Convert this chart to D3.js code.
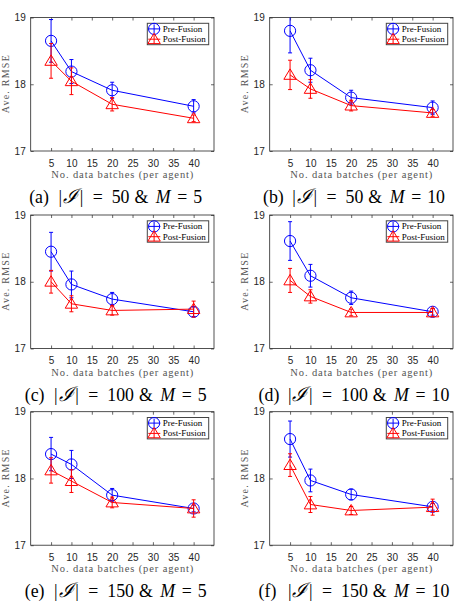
<!DOCTYPE html>
<html><head><meta charset="utf-8">
<script src="https://cdn.jsdelivr.net/npm/d3@7"></script>
<style>body{margin:0;background:#fff} svg{display:block}</style>
</head><body>
<script>
// ---- data ----
const xValues = [5, 10, 20, 40];
const xTicks = [5, 10, 15, 20, 25, 30, 35, 40];
const yTicks = [17, 18, 19];
const panelLabels = ["(a)", "(b)", "(c)", "(d)", "(e)", "(f)"];
const setSizes = [50, 50, 100, 100, 150, 150];
const mValues = [5, 10, 5, 10, 5, 10];
const seriesNames = ["Pre-Fusion", "Post-Fusion"];
const preFusion = [
  [18.65, 18.19, 17.91, 17.67],
  [18.80, 18.21, 17.80, 17.65],
  [18.45, 17.96, 17.74, 17.55],
  [18.61, 18.09, 17.76, 17.55],
  [18.365, 18.21, 17.75, 17.55],
  [18.59, 17.97, 17.76, 17.575]
];
const preFusionErr = [
  [0.32, 0.18, 0.12, 0.10],
  [0.33, 0.18, 0.11, 0.10],
  [0.29, 0.20, 0.10, 0.07],
  [0.29, 0.17, 0.10, 0.05],
  [0.25, 0.21, 0.10, 0.05],
  [0.27, 0.17, 0.08, 0.05]
];
const postFusion = [
  [18.35, 18.045, 17.70, 17.49],
  [18.14, 17.93, 17.68, 17.57],
  [18.00, 17.67, 17.57, 17.59],
  [18.02, 17.78, 17.54, 17.54],
  [18.12, 17.96, 17.64, 17.55],
  [18.20, 17.61, 17.52, 17.57]
];
const postFusionErr = [
  [0.26, 0.20, 0.10, 0.05],
  [0.22, 0.14, 0.08, 0.05],
  [0.17, 0.12, 0.07, 0.12],
  [0.18, 0.10, 0.05, 0.06],
  [0.19, 0.17, 0.08, 0.13],
  [0.17, 0.12, 0.06, 0.12]
];
const seriesColors = ["#0000ff", "#ff0000"];

// ---- layout ----
const W = 458, H = 602;
const colLeft = [30.7, 269.7], plotW = 183.3;
const rowTop = [17.5, 215, 411.7], plotH = 133.5;
const capCenter = [115.7, 354];
const axisColor = "#262626";
const SERIF = "'Liberation Serif', 'Times New Roman', serif";
const SANS = "'Liberation Sans', Arial, sans-serif";

const svg = d3.select("body").append("svg").attr("width", W).attr("height", H);

function marker(g, type, cx, cy, color) {
  if (type === 0) {
    g.append("circle").attr("cx", cx).attr("cy", cy).attr("r", 5.6)
      .attr("fill", "none").attr("stroke", color).attr("stroke-width", 1);
  } else {
    g.append("path").attr("d", `M${cx},${cy - 6}L${cx + 6.2},${cy + 4.4}L${cx - 6.2},${cy + 4.4}Z`)
      .attr("fill", "none").attr("stroke", color).attr("stroke-width", 1);
  }
}

panelLabels.forEach((lab, i) => {
  const col = i % 2, row = Math.floor(i / 2);
  const left = colLeft[col], top = rowTop[row];
  const x = d3.scaleLinear().domain([0, 45]).range([left, left + plotW]);
  const y = d3.scaleLinear().domain([17, 19]).range([top + plotH, top]);
  const g = svg.append("g");

  const cid = "clip" + i;
  svg.append("clipPath").attr("id", cid).append("rect")
    .attr("x", left).attr("y", top).attr("width", plotW).attr("height", plotH);

  const styleAxis = sel => {
    sel.select(".domain").remove();
    sel.selectAll("line").attr("stroke", axisColor).attr("stroke-width", 0.7);
    sel.selectAll("text").attr("fill", axisColor)
      .attr("font-family", SANS).attr("font-size", "10px");
  };
  g.append("g").attr("transform", `translate(0,${top + plotH})`)
    .call(d3.axisBottom(x).tickValues(xTicks).tickSize(-3).tickPadding(8.5).tickFormat(d3.format("d")))
    .call(styleAxis);
  g.append("g").attr("transform", `translate(0,${top})`)
    .call(d3.axisTop(x).tickValues(xTicks).tickSize(-3).tickFormat(""))
    .call(styleAxis);
  g.append("g").attr("transform", `translate(${left},0)`)
    .call(d3.axisLeft(y).tickValues(yTicks).tickSize(-3).tickPadding(5).tickFormat(d3.format("d")))
    .call(styleAxis);
  g.append("g").attr("transform", `translate(${left + plotW},0)`)
    .call(d3.axisRight(y).tickValues(yTicks).tickSize(-3).tickFormat(""))
    .call(styleAxis);
  g.append("rect").attr("x", left).attr("y", top).attr("width", plotW).attr("height", plotH)
    .attr("fill", "none").attr("stroke", axisColor).attr("stroke-width", 0.8);

  // axis labels
  g.append("text").attr("transform", `translate(${left - 25.5},${top + plotH / 2}) rotate(-90)`)
    .attr("text-anchor", "middle").attr("dominant-baseline", "central")
    .attr("font-family", SERIF).attr("font-size", "10px")
    .attr("textLength", 58).attr("lengthAdjust", "spacing")
    .attr("fill", "#555").text("Ave. RMSE");
  g.append("text").attr("x", left + plotW / 2).attr("y", top + plotH + 23.5)
    .attr("text-anchor", "middle").attr("dominant-baseline", "central")
    .attr("font-family", SERIF).attr("font-size", "10.5px")
    .attr("textLength", 142).attr("lengthAdjust", "spacing")
    .attr("fill", "#555").text("No. data batches (per agent)");

  // caption (LaTeX-like math spacing)
  const nd = String(setSizes[i]).length, nm = String(mValues[i]).length, dw = 8.9;
  const pNum = 82.5, pAmp = pNum + nd * dw + 5, pM = pAmp + 21.3, pEq2 = pM + 21.5, pMv = pEq2 + 16;
  const capW = pMv + nm * dw;
  const x0 = capCenter[col] - capW / 2;
  const cap = g.append("text").attr("y", top + 185.6).attr("fill", "#000")
    .attr("font-family", SERIF).attr("font-size", "17.8px");
  const parts = [
    [0, lab, null, null], [29.3, "|", null, null], [33.8, "ℐ", "italic", "20px"], [50.5, "|", null, null],
    [63.5, "=", null, null], [pNum, String(setSizes[i]), null, null], [pAmp, "&", null, null],
    [pM, "M", "italic", null], [pEq2, "=", null, null], [pMv, String(mValues[i]), null, null]
  ];
  parts.forEach(([off, t, st, fs]) => {
    const ts = cap.append("tspan").attr("x", x0 + off).text(t);
    if (st) ts.attr("font-style", st);
    if (fs) ts.attr("font-size", fs);
  });

  // data
  const series = [[preFusion[i], preFusionErr[i]], [postFusion[i], postFusionErr[i]]];
  const pg = g.append("g").attr("clip-path", `url(#${cid})`);
  series.forEach(([vals, errs], s) => {
    const color = seriesColors[s];
    const pts = xValues.map((xv, k) => ({ x: xv, y: vals[k], e: errs[k] }));
    pg.append("path").datum(pts)
      .attr("d", d3.line().x(d => x(d.x)).y(d => y(d.y)))
      .attr("fill", "none").attr("stroke", color).attr("stroke-width", 1);
    pts.forEach(d => {
      const cx = x(d.x), y0 = y(d.y - d.e), y1 = y(d.y + d.e);
      pg.append("line").attr("x1", cx).attr("x2", cx).attr("y1", y0).attr("y2", y1)
        .attr("stroke", color).attr("stroke-width", 1);
      [y0, y1].forEach(yy => pg.append("line").attr("x1", cx - 2).attr("x2", cx + 2)
        .attr("y1", yy).attr("y2", yy).attr("stroke", color).attr("stroke-width", 1));
      marker(pg, s, cx, y(d.y), color);
    });
  });

  // legend
  const lw = 61.4, lh = 21.4;
  const lx = left + plotW - 5.3 - lw, ly = top + 5.8;
  const lg = g.append("g");
  lg.append("rect").attr("x", lx).attr("y", ly).attr("width", lw).attr("height", lh)
    .attr("fill", "#fff").attr("stroke", "#444").attr("stroke-width", 1);
  seriesNames.forEach((name, s) => {
    const cy = ly + 5.6 + s * 10.3, color = seriesColors[s];
    lg.append("line").attr("x1", lx + 1).attr("x2", lx + 13).attr("y1", cy).attr("y2", cy)
      .attr("stroke", color).attr("stroke-width", 1);
    lg.append("line").attr("x1", lx + 6.8).attr("x2", lx + 6.8).attr("y1", cy - 4.5).attr("y2", cy + 4.5)
      .attr("stroke", color).attr("stroke-width", 1);
    marker(lg, s, lx + 6.8, cy, color);
    lg.append("text").attr("x", lx + 15.4).attr("y", cy).attr("dominant-baseline", "central")
      .attr("font-family", SERIF).attr("font-size", "9px")
      .attr("fill", "#000").text(name);
  });
});
</script>
</body></html>
